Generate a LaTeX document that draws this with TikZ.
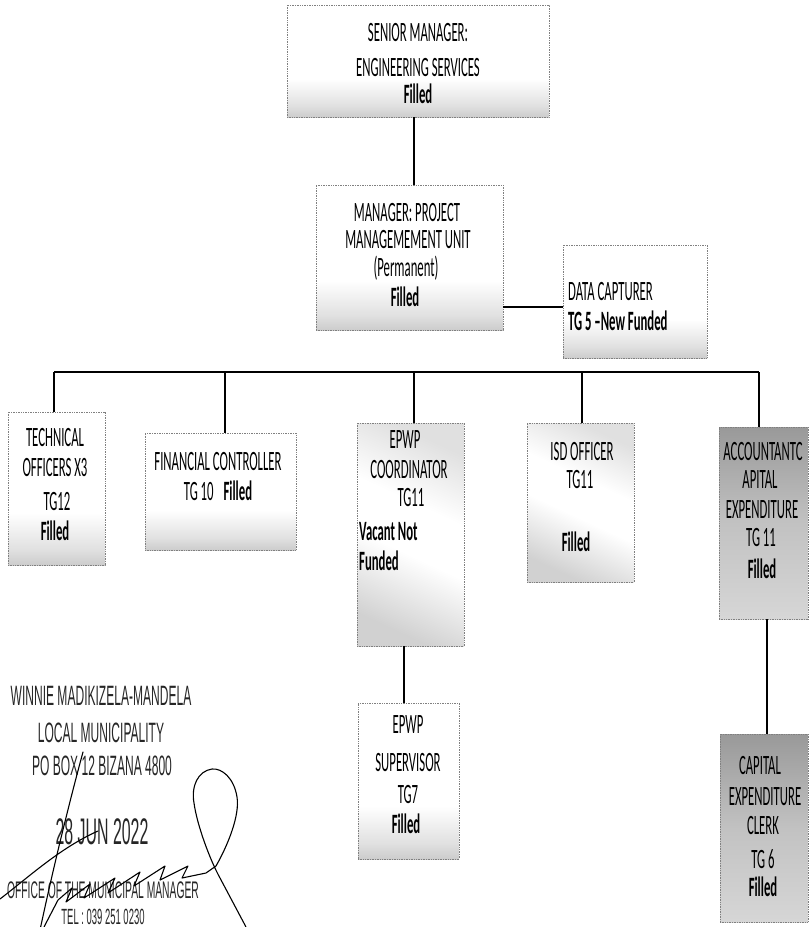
\documentclass[tikz,border=0pt]{standalone}
\usepackage{fontspec}
\newfontfamily\boxfont[FakeStretch=0.455]{Carlito}
\newfontfamily\stampfont[FakeStretch=0.43]{Liberation Sans}

% fills of the post boxes (a pale band along the bottom, or a grey fade)
\pgfdeclareverticalshading{lowband}{100bp}{color(0bp)=(black!20); color(25bp)=(black!20); color(30bp)=(black!12); color(42bp)=(white); color(100bp)=(white)}
\pgfdeclareverticalshading{crossfade}{100bp}{color(0bp)=(black!18); color(25bp)=(black!18); color(45bp)=(white); color(58bp)=(white); color(75bp)=(black!12); color(100bp)=(black!12)}
\pgfdeclareverticalshading{greyfade}{100bp}{color(0bp)=(black!16); color(25bp)=(black!16); color(50bp)=(black!24); color(75bp)=(black!40); color(100bp)=(black!40)}

\tikzset{
  box/.style={draw=black!50, densely dotted, line width=0.7pt, inner sep=0pt, outer sep=0pt, anchor=north west, shade},
  plainbox/.style={box, shading=lowband},
  crossbox/.style={box, shading=crossfade, shading angle=-25},
  greybox/.style={box, shading=greyfade},
  link/.style={line width=1.4pt, black},
  lbl/.style={font={\boxfont\fontsize{28}{32}\selectfont}, anchor=base, inner sep=0pt},
  lblb/.style={lbl, font={\boxfont\bfseries\fontsize{28}{32}\selectfont}},
  lblw/.style={lbl, anchor=base west},
  lblbw/.style={lblb, anchor=base west},
  stamp/.style={font={\stampfont\fontsize{28}{30}\selectfont}, text=black!85, anchor=base, inner sep=0pt},
  sign/.style={line width=1.1pt, black, line cap=round, line join=round}
}

\begin{document}
\begin{tikzpicture}[x=1pt, y=-1pt]
\useasboundingbox (0,0) rectangle (809,927);

% post boxes
\node[plainbox, minimum width=262pt, minimum height=112pt] (sm)   at (287,5)   {};
\node[plainbox, minimum width=187pt, minimum height=145pt] (mgr)  at (316,185) {};
\node[plainbox, minimum width=144pt, minimum height=113pt] (dc)   at (563,245) {};
\node[plainbox, minimum width=97pt,  minimum height=153pt] (tech) at (8,412)   {};
\node[plainbox, minimum width=151pt, minimum height=117pt] (fin)  at (145,433) {};
\node[crossbox, minimum width=107pt, minimum height=223pt] (epc)  at (357,423) {};
\node[crossbox, minimum width=107pt, minimum height=159pt] (isd)  at (527,423) {};
\node[greybox,  minimum width=89pt,  minimum height=192pt] (acc)  at (719,427) {};
\node[plainbox, minimum width=101pt, minimum height=156pt] (sup)  at (358,703) {};
\node[greybox,  minimum width=88pt,  minimum height=188pt] (clk)  at (720,734) {};

% reporting lines
\coordinate (c0) at (414,0);
\coordinate (h1) at (0,307);
\coordinate (busL) at (54,372);
\coordinate (busR) at (759,372);
\coordinate (dF) at (225,372);
\coordinate (dE) at (414,372);
\coordinate (dI) at (582,372);
\coordinate (v1) at (404,0);
\coordinate (v2) at (767,0);
\draw[link] (c0 |- sm.south) -- (c0 |- mgr.north);
\draw[link] (mgr.east |- h1) -- (dc.west |- h1);
\draw[link] (busL) -- (busR);
\draw[link] (busL) -- (busL |- tech.north);
\draw[link] (dF) -- (dF |- fin.north);
\draw[link] (dE) -- (dE |- epc.north);
\draw[link] (dI) -- (dI |- isd.north);
\draw[link] (busR) -- (busR |- acc.north);
\draw[link] (v1 |- epc.south) -- (v1 |- sup.north);
\draw[link] (v2 |- acc.south) -- (v2 |- clk.north);

% post titles
\node[lbl]  (sm1) at (418,41)  {SENIOR MANAGER:};
\node[lbl]  (sm2) at (418,76)  {ENGINEERING SERVICES};
\node[lblb] (sm3) at (418,103) {Filled};

\node[lbl]  (mg1) at (407,221) {MANAGER: PROJECT};
\node[lbl]  (mg2) at (408,248) {MANAGEMEMENT UNIT};
\node[lbl]  (mg3) at (406,276) {(Permanent)};
\node[lblb] (mg4) at (405,306) {Filled};

\node[lblw]  (dc1) at (568,300) {DATA CAPTURER};
\node[lblbw] (dc2) at (568,330) {TG 5 –New Funded};

\node[lbl]  (te1) at (55,446) {TECHNICAL};
\node[lbl]  (te2) at (55,476) {OFFICERS X3};
\node[lbl]  (te3) at (57,510) {TG12};
\node[lblb] (te4) at (55,540) {Filled};

\node[lbl] (fi1) at (218,470) {FINANCIAL CONTROLLER};
\node[lbl] (fi2) at (218,500) {TG 10\hspace{10pt}\textbf{Filled}};

\node[lbl]   (ep1) at (405,448) {EPWP};
\node[lbl]   (ep2) at (409,478) {COORDINATOR};
\node[lbl]   (ep3) at (411,506) {TG11};
\node[lblbw] (ep4) at (359,540) {Vacant Not};
\node[lblbw] (ep5) at (359,570) {Funded};

\node[lbl]  (is1) at (582,460) {ISD OFFICER};
\node[lbl]  (is2) at (580,488) {TG11};
\node[lblb] (is3) at (576,551) {Filled};

\node[lbl]  (ac1) at (763,460) {ACCOUNTANTC};
\node[lbl]  (ac2) at (760,488) {APITAL};
\node[lbl]  (ac3) at (762,518) {EXPENDITURE};
\node[lbl]  (ac4) at (761,546) {TG 11};
\node[lblb] (ac5) at (762,578) {Filled};

\node[lbl]  (su1) at (408,733) {EPWP};
\node[lbl]  (su2) at (408,771) {SUPERVISOR};
\node[lbl]  (su3) at (408,803) {TG7};
\node[lblb] (su4) at (406,833) {Filled};

\node[lbl]  (cl1) at (760,774) {CAPITAL};
\node[lbl]  (cl2) at (765,805) {EXPENDITURE};
\node[lbl]  (cl3) at (763,834) {CLERK};
\node[lbl]  (cl4) at (763,868) {TG 6};
\node[lblb] (cl5) at (763,896) {Filled};

% office stamp
\node[stamp] (st1) at (101,705) {WINNIE MADIKIZELA-MANDELA};
\node[stamp] (st2) at (101,742) {LOCAL MUNICIPALITY};
\node[stamp] (st3) at (102,775) {PO BOX 12 BIZANA 4800};
\node[stamp, font={\stampfont\fontsize{37}{40}\selectfont}] (st4) at (102,844) {28 JUN 2022};
\node[stamp, font={\stampfont\fontsize{24}{26}\selectfont}] (st5) at (103,898) {OFFICE OF THE MUNICIPAL MANAGER};
\node[stamp, font={\stampfont\fontsize{22}{24}\selectfont}] (st6) at (103,924) {TEL : 039 251 0230};

% signature strokes
\draw[sign] (83,752) .. controls (70,800) and (55,860) .. (40,930);
\draw[sign] (0,899) .. controls (30,876) and (60,848) .. (98,831);
\draw[sign] (44,927) -- (58,900) -- (72,888) -- (66,902) -- (90,884) -- (84,898)
  -- (115,878) -- (108,893) -- (140,872) -- (134,886) -- (165,866) -- (160,880)
  -- (188,866) -- (182,878) -- (206,873) -- (216,866)
  .. controls (228,845) and (240,815) .. (237,797)
  .. controls (234,778) and (222,768) .. (212,769)
  .. controls (198,771) and (191,786) .. (194,803)
  .. controls (197,825) and (210,860) .. (220,878) -- (246,927);
\end{tikzpicture}
\end{document}
